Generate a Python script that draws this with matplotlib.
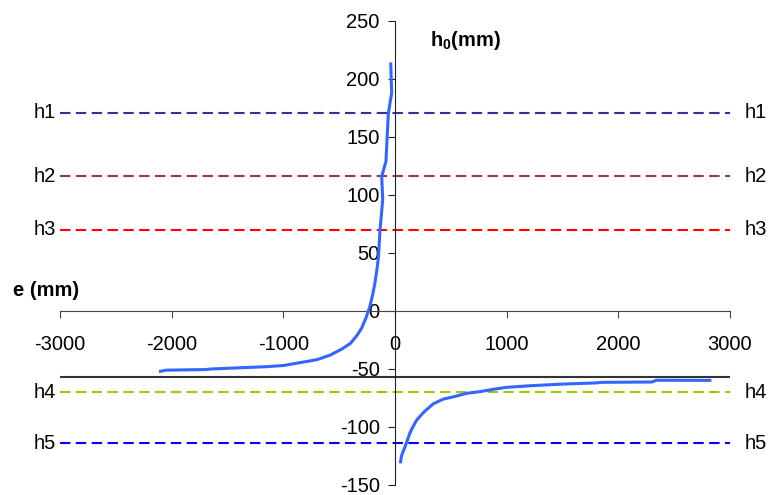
import numpy as np
import matplotlib.pyplot as plt

plt.rcParams['font.family'] = ['Liberation Sans', 'DejaVu Sans']
plt.rcParams['mathtext.fontset'] = 'custom'
plt.rcParams['mathtext.rm'] = 'Liberation Sans'
plt.rcParams['mathtext.bf'] = 'Liberation Sans:bold'
plt.rcParams['axes.unicode_minus'] = False

# curve, negative e branch
e_neg = np.array([-2100, -2050, -1700, -1650, -1400, -1150, -1000, -850, -700, -580,
                  -480, -400, -340, -300, -260, -225, -200, -180, -160, -148,
                  -134, -110, -119, -81, -60, -30, -38])
h_neg = np.array([-52, -51, -50.5, -50, -49, -48, -47, -44.5, -42, -38,
                  -33, -28, -21, -15, -6, 4, 14, 24, 37, 47,
                  70, 96, 116, 129, 170, 188, 213])

# curve, positive e branch
e_pos = np.array([50, 58, 69, 90, 105, 134, 160, 194, 260, 343, 430, 522, 640, 761,
                  880, 1000, 1200, 1500, 1800, 1850, 2300, 2340, 2820])
h_pos = np.array([-130, -125, -122, -117, -113, -105, -100, -94, -87, -80, -76, -74, -71, -69.5,
                  -67.5, -65.8, -64.5, -63, -62, -61.5, -61.2, -59.7, -59.8])

# reference levels
h_names = ['h1', 'h2', 'h3', 'h4', 'h5']
h_vals = [171, 116, 70, -70, -114]
h_colors = ['#333399', '#993366', '#FF0000', '#99CC00', '#0000FF']
black_level = -57

fs = 14.5

fig = plt.figure(figsize=(7.68, 4.95), dpi=100)
ax = fig.add_axes([60/768, 10/495, 670/768, 464/495])

for name, v, c in zip(h_names, h_vals, h_colors):
    ax.axhline(v, color=c, lw=1.5, ls=(0, (5, 2.6)), zorder=2)
    ax.text(-0.006, v, name, transform=ax.get_yaxis_transform(), ha='right', va='center', fontsize=fs)
    ax.text(1.022, v, name, transform=ax.get_yaxis_transform(), ha='left', va='center', fontsize=fs)

ax.axhline(black_level, color='#333333', lw=1.5, zorder=2)

ax.plot(e_neg, h_neg, color='#3366FF', lw=2.2, zorder=3)
ax.plot(e_pos, h_pos, color='#3366FF', lw=2.2, zorder=3)

ax.set_xlim(-3000, 3000)
ax.set_ylim(-150, 250)
ax.set_xticks(np.arange(-3000, 3001, 1000))
ax.set_yticks(np.arange(-150, 251, 50))

ax.spines['left'].set_position(('data', 0))
ax.spines['bottom'].set_position(('data', 0))
ax.spines['right'].set_visible(False)
ax.spines['top'].set_visible(False)
ax.spines['left'].set_color('#222222')
ax.spines['bottom'].set_color('#444444')
ax.tick_params(axis='x', direction='out', length=5, pad=12, labelsize=fs, color='#444444')
ax.tick_params(axis='y', direction='out', length=5, pad=6, labelsize=fs, color='#222222')

fig.text(430/768, 1 - 40/495, r'h$_\mathbf{0}$(mm)', fontsize=fs, fontweight='bold',
         ha='left', va='center')
fig.text(13/768, 1 - 291/495, 'e (mm)', fontsize=fs, fontweight='bold', ha='left', va='center')

plt.savefig('out.png')
